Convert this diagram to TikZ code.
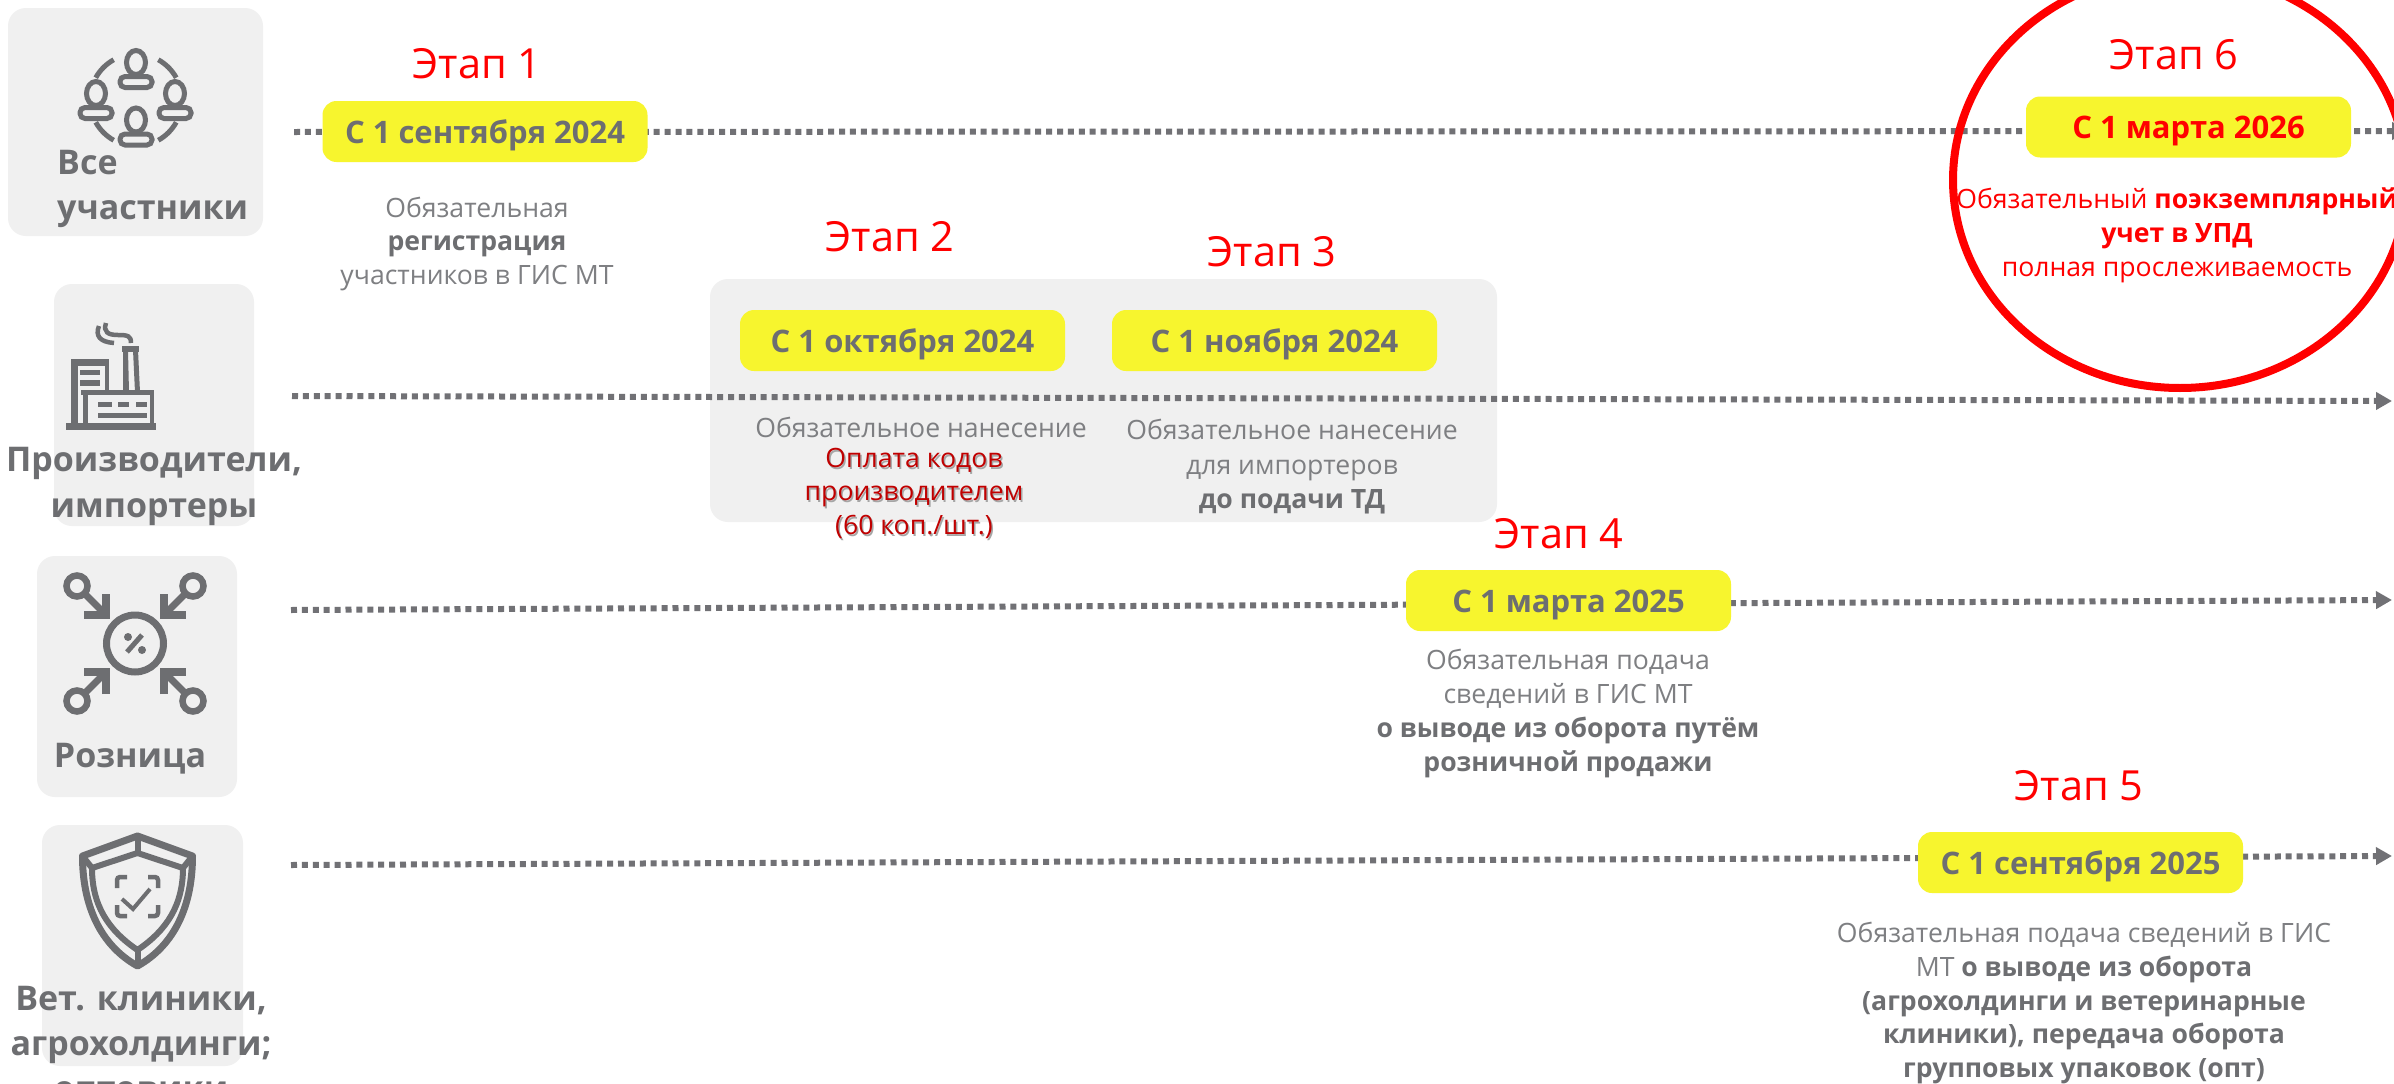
\documentclass[tikz,border=0pt]{standalone}
\usepackage{fontspec}
\setmainfont{Open Sans}
\usetikzlibrary{arrows.meta,shapes.geometric}
\definecolor{ink}{HTML}{6D6E71}
\definecolor{thin}{HTML}{7E7F82}
\definecolor{panel}{HTML}{F0F0F0}
\definecolor{hilite}{HTML}{F7F52E}
\definecolor{lineg}{HTML}{717175}
\definecolor{softred}{HTML}{C00000}
\newcommand{\shadowed}[1]{\rlap{\kern1.5pt\raisebox{-2pt}{\textcolor{black!35}{#1}}}#1}
\newcommand{\bink}[1]{\textbf{\textcolor{ink}{#1}}}
\tikzset{
  x=1pt,y=-1pt,
  panelbox/.style={fill=panel,rounded corners=18pt},
  datebox/.style={fill=hilite,rounded corners=14pt,draw=none,minimum width=325pt,minimum height=61pt,inner sep=0pt,text=ink,text height=23.4pt,text depth=0pt,font=\fontsize{31}{38}\selectfont\bfseries},
  stage/.style={text=red,font=\fontsize{41.5}{50}\selectfont,inner sep=0pt},
  body/.style={text=thin,inner sep=0pt,align=center},
  cat/.style={text=ink,inner sep=0pt,align=center},
  track/.style={draw=lineg,line width=6pt,dash pattern=on 6pt off 4.9pt,-{Triangle[length=16pt,width=17pt]}},
  ic/.style={draw=ink,line width=4pt,fill=none},
}
\begin{document}
\begin{tikzpicture}
\clip (0,0) rectangle (2394,1084);
\fill[white] (0,0) rectangle (2394,1084);

% panels
\fill[panelbox] (8,8) rectangle (263,236);
\fill[panelbox] (54,284) rectangle (254,526);
\fill[panelbox] (37,556) rectangle (237,797);
\fill[panelbox] (42,825) rectangle (243,1066);
\fill[panelbox] (710,279) rectangle (1497,522);

% track ends
\coordinate (a1) at (294,132); \coordinate (b1) at (2408,131);
\coordinate (a2) at (292,396); \coordinate (b2) at (2392,401);
\coordinate (a3) at (291,610); \coordinate (b3) at (2392,600);
\coordinate (a4) at (291,865); \coordinate (b4) at (2392,856);
\draw[track] (a1) -- (b1);
\draw[track] (a2) -- (b2);
\draw[track] (a3) -- (b3);
\draw[track] (a4) -- (b4);

% circle
\node[draw=red,line width=8pt,ellipse,minimum width=454pt,minimum height=416pt,inner sep=0pt,fill=none] (ring) at (2180,180) {};

% date boxes
\node[datebox] (d1) at (485,131.5) {С 1 сентября 2024};
\node[datebox] (d2) at (902.5,340.5) {С 1 октября 2024};
\node[datebox] (d3) at (1274.5,340.5) {С 1 ноября 2024};
\node[datebox] (d4) at (1568.5,600.5) {С 1 марта 2025};
\node[datebox] (d5) at (2080.5,862.5) {С 1 сентября 2025};
\node[datebox,text=red] (d6) at (2188.5,127) {С 1 марта 2026};

% stage labels
\node[stage] (s1) at (477,64) {Этап 1};
\node[stage] (s2) at (890,237) {Этап 2};
\node[stage] (s3) at (1272,252) {Этап 3};
\node[stage] (s4) at (1559,534) {Этап 4};
\node[stage] (s5) at (2079,786) {Этап 5};
\node[stage] (s6) at (2174,55) {Этап 6};

% body texts
\node[body,font=\fontsize{26.6}{33.5}\selectfont] (t1) at (477,244) {Обязательная\\\bink{регистрация}\\участников в ГИС МТ};
\node[body,font=\fontsize{26.6}{33}\selectfont] (t2a) at (921,427) {Обязательное нанесение};
\node[body,text=softred,font=\fontsize{26.6}{33.5}\selectfont] (t2b) at (914,494) {\shadowed{Оплата кодов}\\\shadowed{производителем}\\\shadowed{(60 коп./шт.)}};
\node[body,font=\fontsize{26.6}{34.5}\selectfont] (t3) at (1292,467) {Обязательное нанесение\\для импортеров\\\bink{до подачи ТД}};
\node[body,font=\fontsize{26.6}{34}\selectfont] (t4) at (1568,713) {Обязательная подача\\сведений в ГИС МТ\\\bink{о выводе из оборота путём}\\\bink{розничной продажи}};
\node[body,font=\fontsize{26.6}{33.7}\selectfont] (t5) at (2084,1003) {Обязательная подача сведений в ГИС\\МТ \bink{о выводе из оборота}\\\bink{(агрохолдинги и ветеринарные}\\\bink{клиники), передача оборота}\\\bink{групповых упаковок (опт)}};
\node[body,text=red,font=\fontsize{26.6}{34}\selectfont] (t6) at (2177,235) {Обязательный \textbf{поэкземплярный}\\\textbf{учет в УПД}\\полная прослеживаемость};

% categories
\node[cat,align=left,anchor=west,font=\fontsize{34}{45}\selectfont\bfseries] (c1) at (57,189) {Все\\участники};
\node[cat,font=\fontsize{34}{46}\selectfont\bfseries] (c2) at (154,486) {Производители,\\импортеры};
\node[cat,font=\fontsize{34}{46}\selectfont\bfseries] (c3) at (130,759) {Розница};
\node[cat,font=\fontsize{34}{45}\selectfont\bfseries] (c4) at (141,1044) {Вет. клиники,\\агрохолдинги;\\оптовики};

% icon: people
\foreach \px/\py in {136/69.5,96/100.5,175/100.5,136/127}{
  \begin{scope}[shift={(\px,\py)}]
    \draw[ic,line width=5pt,rounded corners=5pt] (-16,7) rectangle (16,18);
    \draw[ic,line width=5pt] (0,-7) ellipse [x radius=9.5,y radius=12];
  \end{scope}
}
\foreach \a in {45,135,225,315}{
  \draw[ic,line width=5pt,domain=\a-16:\a+16,samples=9,smooth] plot ({136+46*cos(\x)},{100+46*sin(\x)});
}

% icon: factory
\fill[ink] (66,423) rectangle (156,430);
\fill[ink] (71,359) rectangle (109,366);
\fill[ink] (71,359) rectangle (78,425);
\fill[ink] (105,359) rectangle (109,390);
\fill[ink] (80,370) rectangle (100,375);
\fill[ink] (80,380) rectangle (100,386);
\fill[ink] (122,346) rectangle (139,352);
\fill[ink] (123,350) -- (128,350) -- (129,392) -- (123,392) -- cycle;
\fill[ink] (133,350) -- (138,350) -- (140,392) -- (135,392) -- cycle;
\fill[ink] (81,390) rectangle (154,395);
\fill[ink] (83,392) rectangle (88,425);
\fill[ink] (150,392) rectangle (154,425);
\fill[ink] (98,402) rectangle (112,407);
\fill[ink] (118,402) rectangle (129,407);
\fill[ink] (136,402) rectangle (147,407);
\fill[ink] (98,413) rectangle (147,418);
\draw[ic,line width=4.5pt] (99,326) .. controls (95,336) and (100,342) .. (114,343);
\draw[ic,line width=4.5pt] (106,323) .. controls (103,332) and (108,335) .. (118,335) .. controls (128,335) and (131,336) .. (131,343);

% icon: retail
\draw[ic,line width=7pt] (135,643.5) circle (28.5);
\draw[ic,line width=5pt] (127,652) -- (142,635);
\fill[ink] (128,637) circle (4);
\fill[ink] (142,650) circle (4);
\foreach \rx/\ry/\tx/\ty/\ax/\ay/\bx/\by in {77/586/106/615/106/594/84/615, 193/586/164/615/164/594/186/615, 77/701/106/672/106/694/84/672, 193/701/164/672/164/694/186/672}{
  \draw[ic,line width=6.5pt] (\rx,\ry) circle (10.5);
  \draw[ic,line width=7pt] (\rx,\ry) ++({(\tx-\rx)*0.3},{(\ty-\ry)*0.3}) -- (\tx,\ty);
  \draw[ic,line width=8pt,miter limit=4] (\ax,\ay) -- (\tx,\ty) -- (\bx,\by);
}

% icon: shield
\draw[ic,line width=7pt,line join=round] (137.5,836) -- (192.5,856) .. controls (192.5,905) and (175,945) .. (137.5,966) .. controls (100,945) and (82.5,905) .. (82.5,856) -- cycle;
\draw[ic,line width=6pt,line join=round] (137.5,853) -- (183,868) .. controls (183,905) and (167,930) .. (137.5,950) .. controls (108,930) and (92,905) .. (92,868) -- cycle;
\draw[ic,line width=6pt] (137.5,836) -- (137.5,853);
\draw[ic,line width=6pt] (137.5,950) -- (137.5,966);
\draw[ic,line width=6pt] (82.5,856) -- (92,868);
\draw[ic,line width=6pt] (192.5,856) -- (183,868);
\draw[ic,line width=4.5pt,rounded corners=3pt] (117,888) -- (117,877) -- (127,877);
\draw[ic,line width=4.5pt,rounded corners=3pt] (148,877) -- (158,877) -- (158,888);
\draw[ic,line width=4.5pt,rounded corners=3pt] (117,905) -- (117,916) -- (127,916);
\draw[ic,line width=4.5pt,rounded corners=3pt] (148,916) -- (158,916) -- (158,905);
\draw[ic] (122,899) -- (133,909) -- (150,889);
\end{tikzpicture}
\end{document}
